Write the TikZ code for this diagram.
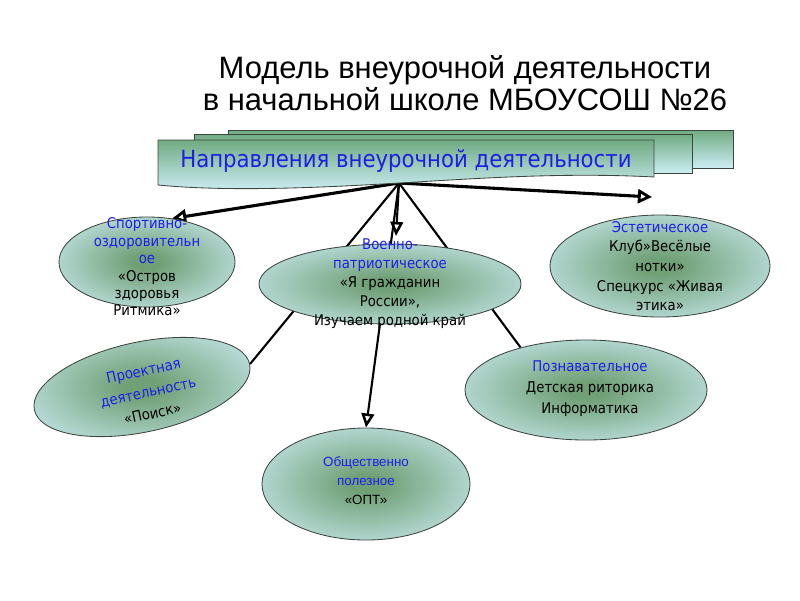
\documentclass[tikz,border=0pt]{standalone}
\usepackage{fontspec}
\setmainfont{DejaVu Sans Condensed}
\newfontfamily\titlefont{Liberation Sans}
\usetikzlibrary{shapes.geometric,arrows.meta,backgrounds}

\definecolor{ellin}{RGB}{112,160,118}
\definecolor{ellout}{RGB}{204,236,244}
\definecolor{bantop}{RGB}{112,170,130}
\definecolor{banbot}{RGB}{204,238,244}
\definecolor{dirblue}{RGB}{30,30,230}
\definecolor{edgegray}{RGB}{60,70,60}
\pgfdeclareradialshading{ellshade}{\pgfpoint{0bp}{0bp}}{color(0bp)=(ellin); color(4bp)=(ellin); color(34bp)=(ellout); color(50bp)=(ellout)}

\newcommand\dirn[1]{\textcolor{dirblue}{#1}}

\tikzset{
  ell/.style={ellipse, draw=edgegray, line width=0.6pt, shading=ellshade, inner sep=0pt},
  elltext/.style={align=center, text=black, font=\fontsize{10.5pt}{13.5pt}\selectfont},
  banbox/.style={draw=edgegray, line width=0.6pt, top color=bantop, bottom color=banbot},
  bigarrow/.style={line width=2.2pt, -{Triangle[open, fill=white, length=10pt, width=10pt, line width=2pt]}},
  smallarrow/.style={line width=1.5pt, -{Triangle[open, fill=white, length=10pt, width=9pt, line width=1.8pt]}},
  link/.style={line width=1.5pt}
}

\begin{document}
\begin{tikzpicture}[x=0.025cm, y=-0.025cm]
\useasboundingbox (0,0) rectangle (800,600);

% title
\node[font=\titlefont\fontsize{22pt}{23pt}\selectfont, align=center] (title) at (465,83)
  {Модель внеурочной деятельности\\в начальной школе МБОУСОШ №26};

% banner
\shade[banbox] (228,130) rectangle (733,168);
\shade[banbox] (194,134) rectangle (692,173);
\shade[banbox] (158,140) -- (654,140) -- (654,177)
  .. controls (560,172) and (470,179) .. (399,183)
  .. controls (300,189) and (220,191) .. (158,185) -- cycle;
\node[text=dirblue, font=\fontsize{16.8pt}{18pt}\selectfont] (banner) at (406,161)
  {Направления внеурочной деятельности};
\coordinate (hub) at (399,183);

% directions
\node[ell, minimum width=4.4cm, minimum height=2.25cm] (sport) at (147,262) {};
\node[ell, minimum width=6.55cm, minimum height=2cm] (voen) at (390,284) {};
\node[ell, minimum width=5.5cm, minimum height=2.55cm] (aest) at (660,266) {};
\node[ell, minimum width=5.5cm, minimum height=2.25cm, rotate=12] (proj) at (142,387) {};
\node[ell, minimum width=6.05cm, minimum height=2.5cm] (pozn) at (586,390) {};
\node[ell, minimum width=5.2cm, minimum height=2.8cm] (obsh) at (366,484) {};

\coordinate (aestTip) at (652,197);
\coordinate (voenTip) at (396,236);

\begin{scope}[on background layer]
  \draw[bigarrow] (hub) -- (sport.60);
  \draw[bigarrow] (hub) -- (aestTip);
  \draw[smallarrow] (hub) -- (voenTip);
  \draw[link] (hub) -- (proj.east);
  \draw[link] (hub) -- (pozn.147);
  \draw[smallarrow] (hub) -- (obsh.north);
\end{scope}

\node[elltext, font=\fontsize{10.5pt}{12.4pt}\selectfont] (sport-t) at (147,267)
  {\dirn{Спортивно-}\\\dirn{оздоровительн}\\\dirn{ое}\\«Остров\\здоровья\\Ритмика»};
\node[elltext] (voen-t) at (390,284)
  {\dirn{Военно-}\\\dirn{патриотическое}\\«Я гражданин\\России»,\\Изучаем родной край};
\node[elltext, font=\fontsize{10.5pt}{14pt}\selectfont] (aest-t) at (660,266)
  {\dirn{Эстетическое}\\Клуб»Весёлые\\нотки»\\Спецкурс «Живая\\этика»};
\node[elltext, rotate=12, font=\fontsize{10.5pt}{15.5pt}\selectfont] (proj-t) at (148,392)
  {\dirn{Проектная}\\\dirn{деятельность}\\«Поиск»};
\node[elltext, font=\fontsize{10.5pt}{15pt}\selectfont] (pozn-t) at (590,389)
  {\dirn{Познавательное}\\Детская риторика\\Информатика};
\node[elltext, font=\titlefont\fontsize{9.5pt}{13.5pt}\selectfont] (obsh-t) at (366,481)
  {\dirn{Общественно}\\\dirn{полезное}\\«ОПТ»};
\end{tikzpicture}
\end{document}
